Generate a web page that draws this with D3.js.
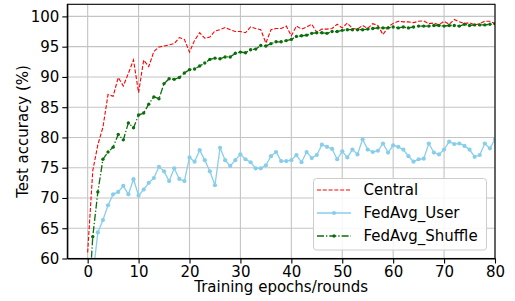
<!DOCTYPE html>
<meta charset="utf-8">
<style>
  body { margin: 0; background: white; }
  svg text { font-family: "DejaVu Sans", sans-serif; font-size: 15px; fill: #000; }
  .grid line { stroke: #c4c4c4; stroke-width: 1.1px; }
  .axis path, .axis line { stroke: #000; stroke-width: 1.1px; }
  .axis text { font-size: 15px; }
</style>
<body>
<script src="https://d3js.org/d3.v7.min.js"></script>
<script>

// values, one per epoch 0..80
var central = [61.0, 74.5, 78.8, 81.7, 87.1, 86.8, 89.9, 88.5, 90.6, 92.8,
  87.4, 92.8, 91.7, 94.2, 94.95, 95.1, 95.3, 95.5, 96.5, 96.2,
  94.1, 96.05, 97.3, 96.4, 96.6, 97.6, 97.8, 98.15, 97.8, 97.5,
  97.5, 97.3, 98.25, 98.0, 97.8, 95.6, 97.8, 98.0, 98.0, 98.4,
  96.8, 98.4, 97.9, 98.25, 98.7, 97.4, 97.9, 97.9, 98.0, 98.7,
  98.1, 98.9, 98.0, 97.9, 98.5, 98.0, 98.8, 98.5, 97.0, 98.25,
  98.85, 99.2, 99.1, 99.1, 98.97, 99.2, 99.25, 98.8, 98.9, 98.6,
  99.2, 98.7, 99.5, 99.1, 98.8, 98.97, 98.6, 98.8, 99.2, 99.2, 98.8];

var fedavgUser = [40.0, 57.0, 64.3, 66.35, 68.8, 70.6, 71.0, 72.0, 70.6, 73.1,
  70.4, 71.4, 72.5, 73.3, 75.15, 74.4, 72.8, 74.9, 73.15, 72.8,
  76.7, 76.0, 77.9, 76.25, 74.4, 72.1, 78.3, 76.25, 75.3, 76.25,
  77.2, 76.4, 75.9, 74.9, 74.9, 75.4, 76.9, 77.6, 76.1, 76.1,
  76.25, 77.1, 75.9, 77.6, 76.6, 77.1, 78.8, 78.45, 78.1, 76.4,
  77.7, 76.7, 78.0, 77.2, 79.7, 78.0, 77.6, 77.8, 79.0, 77.5,
  78.7, 78.45, 78.0, 76.9, 76.0, 76.4, 76.5, 79.0, 77.5, 77.2,
  78.0, 79.3, 78.9, 79.0, 78.6, 78.0, 76.8, 77.1, 79.0, 78.2, 79.7];

var fedavgShuffle = [50.0, 63.6, 71.0, 76.4, 77.6, 78.4, 80.5, 79.6, 82.4, 81.6,
  83.7, 84.05, 85.5, 86.7, 86.4, 88.9, 89.7, 89.6, 89.9, 90.65,
  91.2, 91.3, 91.8, 92.3, 92.9, 93.1, 93.0, 93.3, 93.3, 93.9,
  94.1, 94.0, 94.5, 94.6, 95.2, 95.1, 95.5, 95.8, 95.8, 96.0,
  96.2, 96.7, 96.8, 96.9, 97.2, 97.3, 97.3, 97.2, 97.5, 97.5,
  97.7, 97.8, 97.8, 97.8, 97.8, 97.9, 98.0, 98.1, 98.1, 98.1,
  98.25, 98.1, 98.25, 98.1, 98.25, 98.4, 98.4, 98.4, 98.5, 98.5,
  98.4, 98.5, 98.5, 98.4, 98.7, 98.5, 98.6, 98.6, 98.6, 98.7, 98.8];

var seriesNames = ["Central", "FedAvg_User", "FedAvg_Shuffle"];
var xTicks = [0, 10, 20, 30, 40, 50, 60, 70, 80];
var yTicks = [60, 65, 70, 75, 80, 85, 90, 95, 100];

// plot box
var margin = {top: 4.3, right: 20, bottom: 42.5, left: 67.3},
    W = 515, H = 301,
    width = W - margin.left - margin.right,
    height = H - margin.top - margin.bottom;

var svg = d3.select("body").append("svg")
    .attr("width", W)
    .attr("height", H);

var g = svg.append("g")
    .attr("transform", "translate(" + margin.left + "," + margin.top + ")");

var x = d3.scaleLinear().domain([-4, 80]).range([0, width]);
var y = d3.scaleLinear().domain([60, 102]).range([height, 0]);

// grid
g.append("g").attr("class", "grid")
  .selectAll("line").data(xTicks).enter().append("line")
    .attr("x1", function(d) { return x(d); }).attr("x2", function(d) { return x(d); })
    .attr("y1", 0).attr("y2", height);
g.append("g").attr("class", "grid")
  .selectAll("line").data(yTicks).enter().append("line")
    .attr("y1", function(d) { return y(d); }).attr("y2", function(d) { return y(d); })
    .attr("x1", 0).attr("x2", width);

g.append("clipPath").attr("id", "clip")
  .append("rect").attr("width", width).attr("height", height);

var plot = g.append("g").attr("clip-path", "url(#clip)");

var line = d3.line()
    .x(function(d, i) { return x(i); })
    .y(function(d) { return y(d); });

var styles = [
  {data: central, color: "#ff0000", dash: "4,1.8", width: 1.1, r: 0},
  {data: fedavgUser, color: "#87ceeb", dash: null, width: 1.3, r: 2.1},
  {data: fedavgShuffle, color: "#0b6e0b", dash: "7,2,1.3,2", width: 1.3, r: 1.7}
];

styles.forEach(function(s) {
  plot.append("path")
    .datum(s.data)
    .attr("fill", "none")
    .attr("stroke", s.color)
    .attr("stroke-width", s.width)
    .attr("stroke-dasharray", s.dash)
    .attr("d", line);
  if (s.r > 0) {
    plot.append("g").selectAll("circle").data(s.data).enter().append("circle")
      .attr("cx", function(d, i) { return x(i); })
      .attr("cy", function(d) { return y(d); })
      .attr("r", s.r)
      .attr("fill", s.color);
  }
});

// axes
g.append("g").attr("class", "axis")
  .attr("transform", "translate(0," + height + ")")
  .call(d3.axisBottom(x).tickValues(xTicks).tickSize(5).tickPadding(3).tickSizeOuter(0));
g.append("g").attr("class", "axis")
  .call(d3.axisLeft(y).tickValues(yTicks).tickSize(5).tickPadding(3).tickSizeOuter(0));

// full frame
g.append("rect")
  .attr("width", width).attr("height", height)
  .attr("fill", "none").attr("stroke", "#000").attr("stroke-width", 1.1);

g.selectAll(".axis text").style("font-family", "DejaVu Sans").style("font-size", "15px");

// axis labels
svg.append("text")
  .attr("x", margin.left + width / 2)
  .attr("y", 291.5)
  .attr("text-anchor", "middle")
  .text("Training epochs/rounds");

svg.append("text")
  .attr("transform", "translate(27.5," + (margin.top + height / 2) + ") rotate(-90)")
  .attr("text-anchor", "middle")
  .text("Test accuracy (%)");

// legend
var legend = svg.append("g").attr("transform", "translate(313.5,178.5)");
legend.append("rect")
  .attr("width", 173).attr("height", 71.5).attr("rx", 3)
  .attr("fill", "white").attr("fill-opacity", 0.85)
  .attr("stroke", "#cccccc").attr("stroke-width", 1);

seriesNames.forEach(function(name, i) {
  var s = styles[i], ly = 11.5 + i * 23;
  legend.append("line")
    .attr("x1", 3.5).attr("x2", 37.5).attr("y1", ly).attr("y2", ly)
    .attr("stroke", s.color).attr("stroke-width", s.width)
    .attr("stroke-dasharray", s.dash);
  if (s.r > 0) {
    legend.append("circle").attr("cx", 20.5).attr("cy", ly).attr("r", s.r).attr("fill", s.color);
  }
  legend.append("text")
    .attr("x", 50).attr("y", ly).attr("dy", "0.35em")
    .text(name);
});

</script>
</body>
